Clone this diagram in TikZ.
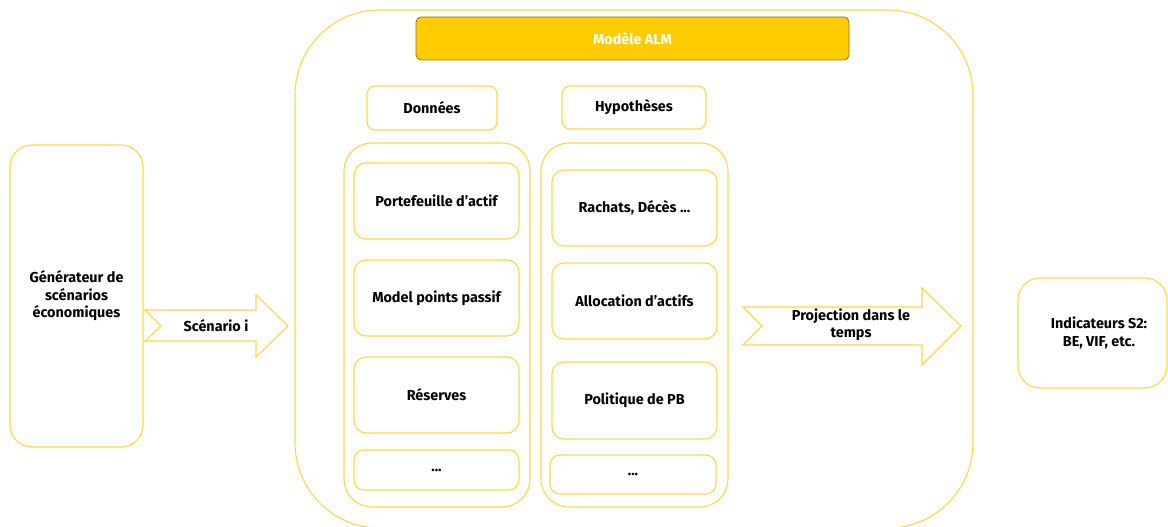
\documentclass[tikz,border=0pt]{standalone}
\usepackage{fontspec}
\setmainfont{Fira Sans}
\definecolor{ylw}{RGB}{255,214,72}
\definecolor{gold}{RGB}{255,204,0}
\definecolor{olive}{RGB}{140,118,30}
\begin{document}
\begin{tikzpicture}[x=1pt,y=-1pt,
  lbl/.style={font=\fontsize{14.4}{17.5}\selectfont\bfseries, align=center, text=black},
  box/.style={draw=ylw, line width=1.1pt, lbl, inner sep=0pt},
  item/.style={box, rounded corners=12pt, minimum width=165pt, minimum height=76pt},
  dots/.style={box, rounded corners=10pt, minimum width=165pt, minimum height=40pt},
  column/.style={box, rounded corners=28pt, minimum width=186pt, minimum height=364pt},
  head/.style={box, rounded corners=8pt, minimum height=44pt},
  bigarrow/.style={draw=ylw, line width=1.1pt, fill=white}
]
\useasboundingbox (0,0) rectangle (1168,527);

% ALM model frame and its title bar
\node[box, rounded corners=85pt, minimum width=678pt, minimum height=518pt] (alm) at (634,269) {};
\node[draw=olive, fill=gold, line width=0.8pt, rounded corners=5pt, minimum width=433pt, minimum height=43pt,
      font=\fontsize{14.4}{17.5}\selectfont\bfseries, text=white] (title) at (632.5,38.5) {Modèle ALM};

% column headers
\node[head, minimum width=130pt] (donnees) at (432,108) {Données};
\node[head, minimum width=144pt, minimum height=43pt] (hypo) at (634,107.5) {Hypothèses};

% columns
\node[column] (colL) at (437,325) {};
\node[column, minimum width=187pt] (colR) at (634.5,325) {};

% data items
\node[item] (l1) at (436.5,201) {Portefeuille d’actif};
\node[item] (l2) at (436.5,298) {Model points passif};
\node[item] (l3) at (436.5,395) {Réserves};
\node[dots] (l4) at (436.5,470) {...};

% assumption items
\node[item] (r1) at (634.5,208) {Rachats, Décès ...};
\node[item] (r2) at (634.5,301) {Allocation d’actifs};
\node[item, minimum height=77pt] (r3) at (634.5,400.5) {Politique de PB};
\node[dots, minimum width=166pt, minimum height=39pt] (r4) at (633,474.5) {...};

% scenario generator and output indicators
\node[box, rounded corners=22pt, minimum width=133pt, minimum height=302pt] (gen) at (76.5,296)
  {Générateur de\\scénarios\\économiques};
\node[box, rounded corners=22pt, minimum width=149pt, minimum height=110pt] (ind) at (1092.5,333) {};
\node[lbl] (indtxt) at (1099,333) {Indicateurs S2:\\BE, VIF, etc.};

% notched arrows
\draw[bigarrow] (145,310) -- (256,310) -- (256,295) -- (288,326) -- (256,357) -- (256,341)
  -- (145,341) -- (161,326) -- cycle;
\node[lbl] (scen) at (216,326) {Scénario i};
\draw[bigarrow] (743,307) -- (922,307) -- (922,288) -- (961,326) -- (922,365) -- (922,345)
  -- (743,345) -- (762,326) -- cycle;
\node[lbl] (proj) at (851,325) {Projection dans le\\temps};
\end{tikzpicture}
\end{document}
